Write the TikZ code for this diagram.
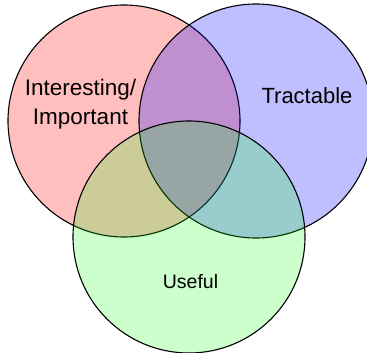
\documentclass[tikz,border=0pt]{standalone}
\usepackage{fontspec}
\setmainfont{Liberation Sans}
\usetikzlibrary{positioning}

\tikzset{
  set/.style={circle, draw=black, line width=1.1pt, inner sep=0pt, minimum size=#1},
  setlabel/.style={inner sep=0pt, align=center}
}

\begin{document}
\begin{tikzpicture}[x=1pt, y=-1pt]
  \useasboundingbox (0,0) rectangle (367,353);
  % the three sets
  \node [set=232pt, fill=red, fill opacity=0.25, text opacity=1] (interesting) at (124,121) {};
  \node [set=234pt, fill=blue, fill opacity=0.25, text opacity=1] (tractable) at (256,121) {};
  \node [set=232pt, fill=green, fill opacity=0.2, text opacity=1] (useful) at (189,237) {};
  % labels
  \node [setlabel, font=\fontsize{22.5}{29}\selectfont] (interestinglabel) at (80.5,104.6) {Interesting/\\Important};
  \node [setlabel, font=\fontsize{22}{26}\selectfont] (tractablelabel) at (307,96) {Tractable};
  \node [setlabel, font=\fontsize{19.5}{23}\selectfont] (usefullabel) at (190.5,281.2) {Useful};
\end{tikzpicture}
\end{document}
